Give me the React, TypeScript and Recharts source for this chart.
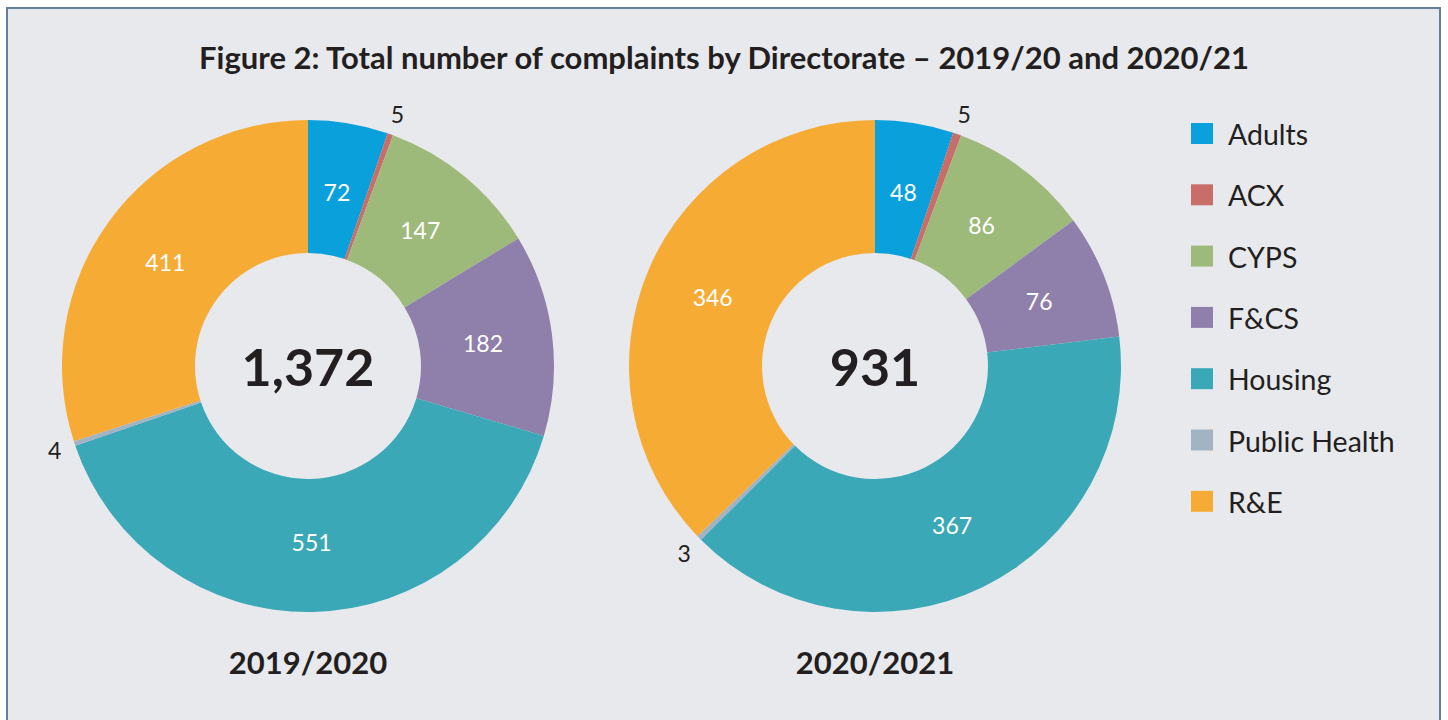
import * as React from 'react';
import { PieChart, Pie, Cell } from 'recharts';

const directorates = ['Adults', 'ACX', 'CYPS', 'F&CS', 'Housing', 'Public Health', 'R&E'];
const colors = ['#0aa0dc', '#c96d69', '#9dba7b', '#8f7fab', '#3aa8b7', '#a2b3c3', '#f6ab35'];
const values2019 = [72, 5, 147, 182, 551, 4, 411];
const values2020 = [48, 5, 86, 76, 367, 3, 346];
const years = ['2019/2020', '2020/2021'];
const totals = ['1,372', '931'];

const FONT = 'Lato, "Open Sans", sans-serif';
const RADIAN = Math.PI / 180;

const toRows = (values: number[]) =>
  directorates.map((name, i) => ({ name, value: values[i] }));

const renderLabel = (props: any) => {
  const { cx, cy, midAngle, innerRadius, outerRadius, value } = props;
  const small = value < 10;
  const r = small ? outerRadius + 21 : (innerRadius + outerRadius) / 2 - 3;
  const x = cx + r * Math.cos(-midAngle * RADIAN);
  const y = cy + r * Math.sin(-midAngle * RADIAN);
  return (
    <text
      x={x}
      y={y}
      fill={small ? '#231f20' : '#ffffff'}
      fontSize={23}
      fontFamily={FONT}
      textAnchor="middle"
      dominantBaseline="central"
    >
      {value}
    </text>
  );
};

const pies = [
  { cx: 308, cy: 366, data: toRows(values2019) },
  { cx: 875, cy: 366, data: toRows(values2020) },
];

export default function App() {
  return (
    <div style={{ position: 'absolute', left: 0, top: 0, width: 1448, height: 720, background: '#ffffff', overflow: 'hidden' }}>
      <div
        style={{
          position: 'absolute',
          left: 6,
          top: 7,
          width: 1431,
          height: 730,
          border: '2px solid #5f7f9b',
          background: '#e8e9ed',
        }}
      />
      <div
        style={{
          position: 'absolute',
          left: 0,
          top: 38,
          width: 1448,
          textAlign: 'center',
          fontFamily: FONT,
          fontWeight: 700,
          fontSize: 31,
          color: '#231f20',
        }}
      >
        Figure 2: Total number of complaints by Directorate – 2019/20 and 2020/21
      </div>
      <div style={{ position: 'absolute', left: 0, top: 0 }}>
        <PieChart width={1448} height={720} margin={{ top: 0, right: 0, bottom: 0, left: 0 }}>
          {pies.map((p, idx) => (
            <Pie
              key={idx}
              data={p.data}
              dataKey="value"
              nameKey="name"
              cx={p.cx}
              cy={p.cy}
              innerRadius={113}
              outerRadius={246}
              startAngle={90}
              endAngle={-270}
              stroke="none"
              label={renderLabel}
              labelLine={false}
              isAnimationActive={false}
            >
              {p.data.map((d, i) => (
                <Cell key={d.name} fill={colors[i]} />
              ))}
            </Pie>
          ))}
          {pies.map((p, idx) => (
            <text
              key={'t' + idx}
              x={p.cx}
              y={p.cy}
              textAnchor="middle"
              dominantBaseline="central"
              fontFamily={FONT}
              fontWeight={700}
              fontSize={52}
              fill="#231f20"
            >
              {totals[idx]}
            </text>
          ))}
          {pies.map((p, idx) => (
            <text
              key={'y' + idx}
              x={p.cx}
              y={662}
              textAnchor="middle"
              dominantBaseline="central"
              fontFamily={FONT}
              fontWeight={700}
              fontSize={31}
              fill="#231f20"
            >
              {years[idx]}
            </text>
          ))}
          {directorates.map((name, i) => (
            <g key={'l' + name}>
              <rect x={1191} y={123 + i * 61.3} width={22} height={21} fill={colors[i]} />
              <text
                x={1228}
                y={134 + i * 61.3}
                dominantBaseline="central"
                fontFamily={FONT}
                fontSize={28.5}
                fill="#231f20"
              >
                {name}
              </text>
            </g>
          ))}
        </PieChart>
      </div>
    </div>
  );
}
